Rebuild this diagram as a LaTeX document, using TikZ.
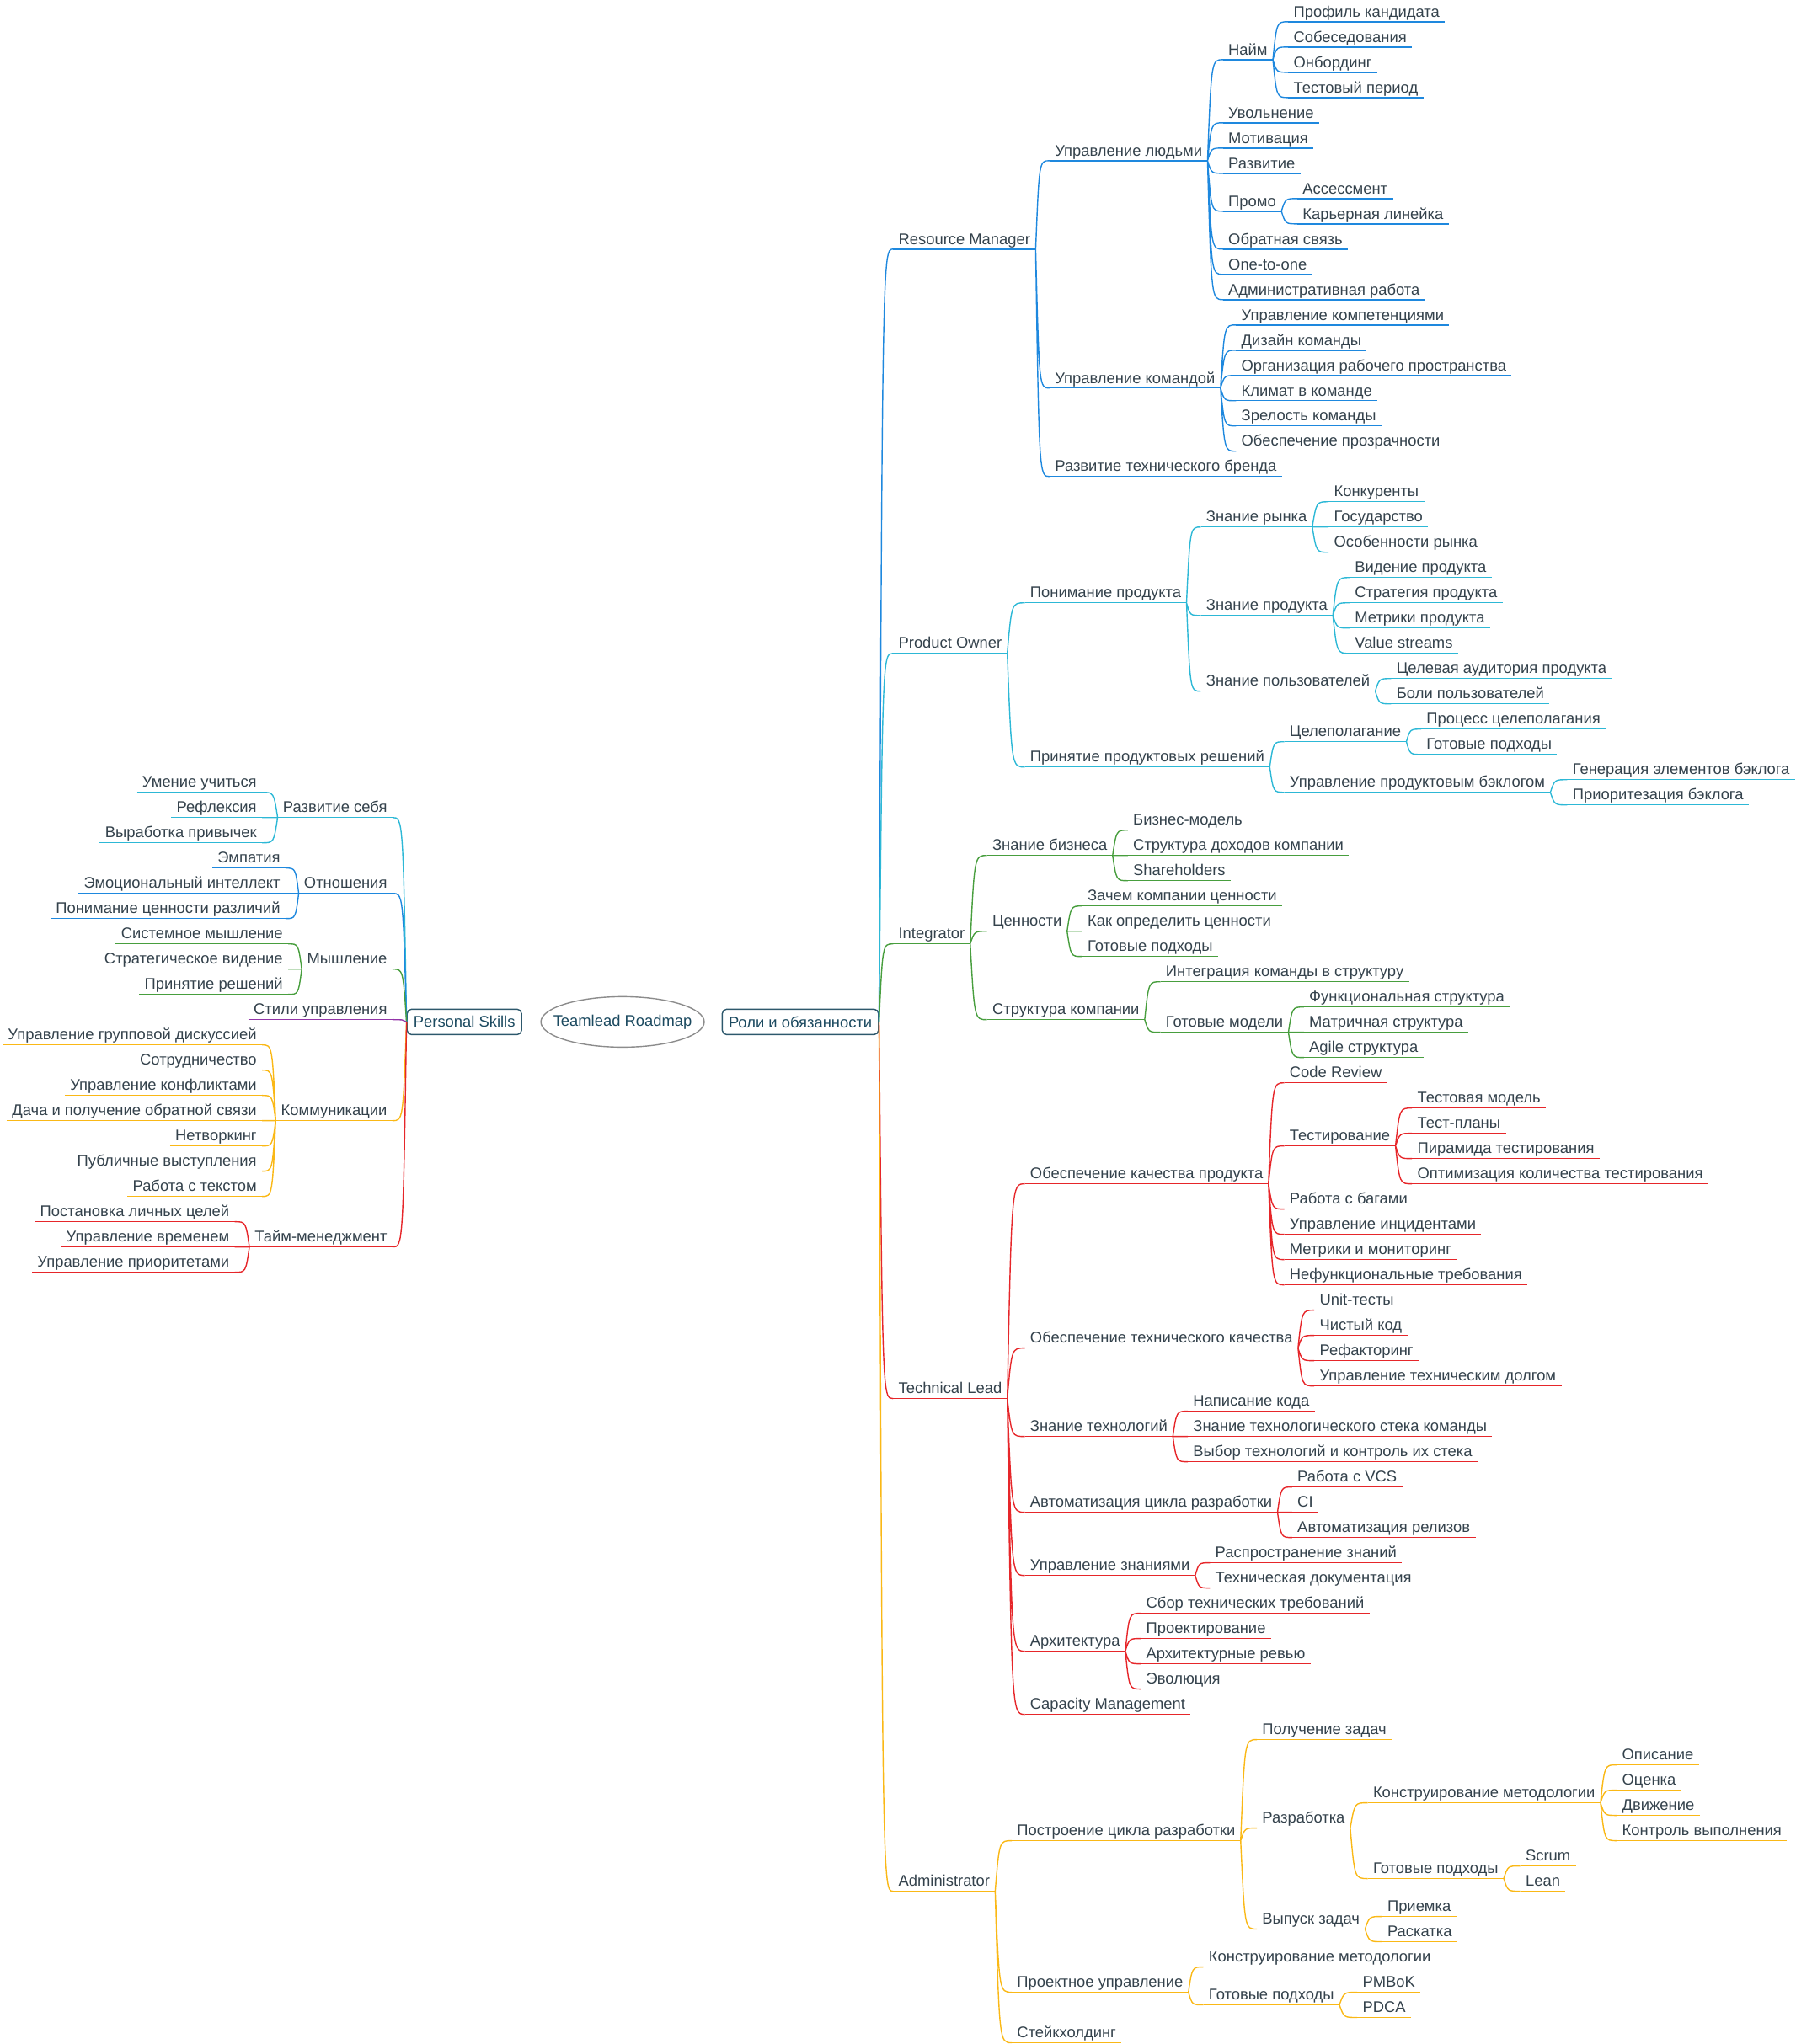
\documentclass[tikz,border=0pt]{standalone}
\usepackage{fontspec}
\setmainfont{Liberation Sans}
\usepackage{xcolor}
\usepackage{tikz}
\usetikzlibrary{positioning,shapes.geometric,calc}

\definecolor{ink}{RGB}{52,66,76}
\definecolor{hubink}{RGB}{28,74,96}
\definecolor{hubline}{RGB}{45,88,108}
\definecolor{rmblue}{RGB}{30,136,222}
\definecolor{pocyan}{RGB}{45,184,214}
\definecolor{iggreen}{RGB}{72,158,62}
\definecolor{tlred}{RGB}{230,38,42}
\definecolor{adamber}{RGB}{250,184,22}
\definecolor{psviolet}{RGB}{146,52,168}

\begin{document}
\begin{tikzpicture}[
  x=0.7742pt, y=-15.004pt,
  font=\fontsize{9.2}{10}\selectfont,
  topic/.style={text=ink, inner xsep=3pt, inner ysep=0.8pt, text height=6.8pt, text depth=1.9pt,
    append after command={(\tikzlastnode.south west) edge[draw=#1, line width=0.7pt] (\tikzlastnode.south east)}},
  rt/.style={topic=#1, anchor=south west},
  lt/.style={topic=#1, anchor=south east},
  hub/.style={draw=hubline, text=hubink, rounded corners=2.5pt, line width=0.7pt, inner xsep=3.8pt, minimum height=15pt},
  root/.style={ellipse, draw=black!45, text=hubink, line width=0.7pt, inner xsep=-7pt, inner ysep=0pt,
    minimum width=97pt, minimum height=30pt},
  link/.style={draw=#1, line width=0.7pt,
    to path={.. controls ($(\tikztostart |- \tikztotarget)!0.25!(\tikztotarget)$)
      and ($(\tikztostart |- \tikztotarget)!0.25!(\tikztotarget)$) .. (\tikztotarget)}}
]
\useasboundingbox (0,-0.862) rectangle (1377,80.05);

\node[root] (map) at (477.5,39.59) {Teamlead Roadmap};
\node[hub, left=10.8pt of map] (skills) {Personal Skills};
\node[hub, right=10pt of map] (roles) {Роли и обязанности};
\draw[hubline, line width=0.7pt] (skills) -- (map);
\draw[hubline, line width=0.7pt] (map) -- (roles);

\node[rt=rmblue] (rm) at (685,9) {Resource Manager};
\node[rt=rmblue] (ppl) at (805,5.5) {Управление людьми};
\node[rt=rmblue] (hire) at (938,1.5) {Найм};
\node[rt=rmblue] (hire1) at (988,0) {Профиль кандидата};
\node[rt=rmblue] (hire2) at (988,1) {Собеседования};
\node[rt=rmblue] (hire3) at (988,2) {Онбординг};
\node[rt=rmblue] (hire4) at (988,3) {Тестовый период};
\node[rt=rmblue] (fire) at (938,4) {Увольнение};
\node[rt=rmblue] (motiv) at (938,5) {Мотивация};
\node[rt=rmblue] (grow) at (938,6) {Развитие};
\node[rt=rmblue] (promo) at (938,7.5) {Промо};
\node[rt=rmblue] (promo1) at (995,7) {Ассессмент};
\node[rt=rmblue] (promo2) at (995,8) {Карьерная линейка};
\node[rt=rmblue] (fb) at (938,9) {Обратная связь};
\node[rt=rmblue] (oto) at (938,10) {One-to-one};
\node[rt=rmblue] (paper) at (938,11) {Административная работа};
\node[rt=rmblue] (team) at (805,14.5) {Управление командой};
\node[rt=rmblue] (team1) at (948,12) {Управление компетенциями};
\node[rt=rmblue] (team2) at (948,13) {Дизайн команды};
\node[rt=rmblue] (team3) at (948,14) {Организация рабочего пространства};
\node[rt=rmblue] (team4) at (948,15) {Климат в команде};
\node[rt=rmblue] (team5) at (948,16) {Зрелость команды};
\node[rt=rmblue] (team6) at (948,17) {Обеспечение прозрачности};
\node[rt=rmblue] (brand) at (805,18) {Развитие технического бренда};

\node[rt=pocyan] (po) at (685,25) {Product Owner};
\node[rt=pocyan] (know) at (786,23) {Понимание продукта};
\node[rt=pocyan] (mkt) at (921,20) {Знание рынка};
\node[rt=pocyan] (mkt1) at (1019,19) {Конкуренты};
\node[rt=pocyan] (mkt2) at (1019,20) {Государство};
\node[rt=pocyan] (mkt3) at (1019,21) {Особенности рынка};
\node[rt=pocyan] (prod) at (921,23.5) {Знание продукта};
\node[rt=pocyan] (prod1) at (1035,22) {Видение продукта};
\node[rt=pocyan] (prod2) at (1035,23) {Стратегия продукта};
\node[rt=pocyan] (prod3) at (1035,24) {Метрики продукта};
\node[rt=pocyan] (prod4) at (1035,25) {Value streams};
\node[rt=pocyan] (usr) at (921,26.5) {Знание пользователей};
\node[rt=pocyan] (usr1) at (1067,26) {Целевая аудитория продукта};
\node[rt=pocyan] (usr2) at (1067,27) {Боли пользователей};
\node[rt=pocyan] (dec) at (786,29.5) {Принятие продуктовых решений};
\node[rt=pocyan] (goal) at (985,28.5) {Целеполагание};
\node[rt=pocyan] (goal1) at (1090,28) {Процесс целеполагания};
\node[rt=pocyan] (goal2) at (1090,29) {Готовые подходы};
\node[rt=pocyan] (blog) at (985,30.5) {Управление продуктовым бэклогом};
\node[rt=pocyan] (blog1) at (1202,30) {Генерация элементов бэклога};
\node[rt=pocyan] (blog2) at (1202,31) {Приоритезация бэклога};

\node[rt=iggreen] (ig) at (685,36.5) {Integrator};
\node[rt=iggreen] (biz) at (757,33) {Знание бизнеса};
\node[rt=iggreen] (biz1) at (865,32) {Бизнес-модель};
\node[rt=iggreen] (biz2) at (865,33) {Структура доходов компании};
\node[rt=iggreen] (biz3) at (865,34) {Shareholders};
\node[rt=iggreen] (val) at (757,36) {Ценности};
\node[rt=iggreen] (val1) at (830,35) {Зачем компании ценности};
\node[rt=iggreen] (val2) at (830,36) {Как определить ценности};
\node[rt=iggreen] (val3) at (830,37) {Готовые подходы};
\node[rt=iggreen] (org) at (757,39.5) {Структура компании};
\node[rt=iggreen] (org1) at (890,38) {Интеграция команды в структуру};
\node[rt=iggreen] (mdl) at (890,40) {Готовые модели};
\node[rt=iggreen] (mdl1) at (1000,39) {Функциональная структура};
\node[rt=iggreen] (mdl2) at (1000,40) {Матричная структура};
\node[rt=iggreen] (mdl3) at (1000,41) {Agile структура};

\node[rt=tlred] (tl) at (685,54.5) {Technical Lead};
\node[rt=tlred] (qa) at (786,46) {Обеспечение качества продукта};
\node[rt=tlred] (cr) at (985,42) {Code Review};
\node[rt=tlred] (test) at (985,44.5) {Тестирование};
\node[rt=tlred] (test1) at (1083,43) {Тестовая модель};
\node[rt=tlred] (test2) at (1083,44) {Тест-планы};
\node[rt=tlred] (test3) at (1083,45) {Пирамида тестирования};
\node[rt=tlred] (test4) at (1083,46) {Оптимизация количества тестирования};
\node[rt=tlred] (bugs) at (985,47) {Работа с багами};
\node[rt=tlred] (inc) at (985,48) {Управление инцидентами};
\node[rt=tlred] (mon) at (985,49) {Метрики и мониторинг};
\node[rt=tlred] (nfr) at (985,50) {Нефункциональные требования};
\node[rt=tlred] (tq) at (786,52.5) {Обеспечение технического качества};
\node[rt=tlred] (tq1) at (1008,51) {Unit-тесты};
\node[rt=tlred] (tq2) at (1008,52) {Чистый код};
\node[rt=tlred] (tq3) at (1008,53) {Рефакторинг};
\node[rt=tlred] (tq4) at (1008,54) {Управление техническим долгом};
\node[rt=tlred] (tech) at (786,56) {Знание технологий};
\node[rt=tlred] (tech1) at (911,55) {Написание кода};
\node[rt=tlred] (tech2) at (911,56) {Знание технологического стека команды};
\node[rt=tlred] (tech3) at (911,57) {Выбор технологий и контроль их стека};
\node[rt=tlred] (auto) at (786,59) {Автоматизация цикла разработки};
\node[rt=tlred] (auto1) at (991,58) {Работа с VCS};
\node[rt=tlred] (auto2) at (991,59) {CI};
\node[rt=tlred] (auto3) at (991,60) {Автоматизация релизов};
\node[rt=tlred] (km) at (786,61.5) {Управление знаниями};
\node[rt=tlred] (km1) at (928,61) {Распространение знаний};
\node[rt=tlred] (km2) at (928,62) {Техническая документация};
\node[rt=tlred] (arch) at (786,64.5) {Архитектура};
\node[rt=tlred] (arch1) at (875,63) {Сбор технических требований};
\node[rt=tlred] (arch2) at (875,64) {Проектирование};
\node[rt=tlred] (arch3) at (875,65) {Архитектурные ревью};
\node[rt=tlred] (arch4) at (875,66) {Эволюция};
\node[rt=tlred] (cap) at (786,67) {Capacity Management};

\node[rt=adamber] (ad) at (685,74) {Administrator};
\node[rt=adamber] (cyc) at (776,72) {Построение цикла разработки};
\node[rt=adamber] (get) at (964,68) {Получение задач};
\node[rt=adamber] (dev) at (964,71.5) {Разработка};
\node[rt=adamber] (meth) at (1049,70.5) {Конструирование методологии};
\node[rt=adamber] (meth1) at (1240,69) {Описание};
\node[rt=adamber] (meth2) at (1240,70) {Оценка};
\node[rt=adamber] (meth3) at (1240,71) {Движение};
\node[rt=adamber] (meth4) at (1240,72) {Контроль выполнения};
\node[rt=adamber] (rdy) at (1049,73.5) {Готовые подходы};
\node[rt=adamber] (rdy1) at (1166,73) {Scrum};
\node[rt=adamber] (rdy2) at (1166,74) {Lean};
\node[rt=adamber] (rel) at (964,75.5) {Выпуск задач};
\node[rt=adamber] (rel1) at (1060,75) {Приемка};
\node[rt=adamber] (rel2) at (1060,76) {Раскатка};
\node[rt=adamber] (pm) at (776,78) {Проектное управление};
\node[rt=adamber] (pm1) at (923,77) {Конструирование методологии};
\node[rt=adamber] (pm2) at (923,78.5) {Готовые подходы};
\node[rt=adamber] (pm21) at (1041,78) {PMBoK};
\node[rt=adamber] (pm22) at (1041,79) {PDCA};
\node[rt=adamber] (stake) at (776,80) {Стейкхолдинг};

\node[lt=pocyan] (self) at (301,31.5) {Развитие себя};
\node[lt=pocyan] (self1) at (201,30.5) {Умение учиться};
\node[lt=pocyan] (self2) at (201,31.5) {Рефлексия};
\node[lt=pocyan] (self3) at (201,32.5) {Выработка привычек};
\node[lt=rmblue] (bond) at (301,34.5) {Отношения};
\node[lt=rmblue] (bond1) at (219,33.5) {Эмпатия};
\node[lt=rmblue] (bond2) at (219,34.5) {Эмоциональный интеллект};
\node[lt=rmblue] (bond3) at (219,35.5) {Понимание ценности различий};
\node[lt=iggreen] (mind) at (301,37.5) {Мышление};
\node[lt=iggreen] (mind1) at (221,36.5) {Системное мышление};
\node[lt=iggreen] (mind2) at (221,37.5) {Стратегическое видение};
\node[lt=iggreen] (mind3) at (221,38.5) {Принятие решений};
\node[lt=psviolet] (lead) at (301,39.5) {Стили управления};
\node[lt=adamber] (comm) at (301,43.5) {Коммуникации};
\node[lt=adamber] (comm1) at (201,40.5) {Управление групповой дискуссией};
\node[lt=adamber] (comm2) at (201,41.5) {Сотрудничество};
\node[lt=adamber] (comm3) at (201,42.5) {Управление конфликтами};
\node[lt=adamber] (comm4) at (201,43.5) {Дача и получение обратной связи};
\node[lt=adamber] (comm5) at (201,44.5) {Нетворкинг};
\node[lt=adamber] (comm6) at (201,45.5) {Публичные выступления};
\node[lt=adamber] (comm7) at (201,46.5) {Работа с текстом};
\node[lt=tlred] (time) at (301,48.5) {Тайм-менеджмент};
\node[lt=tlred] (time1) at (180,47.5) {Постановка личных целей};
\node[lt=tlred] (time2) at (180,48.5) {Управление временем};
\node[lt=tlred] (time3) at (180,49.5) {Управление приоритетами};

\draw[link=rmblue] (roles.east) to (rm.south west);
\draw[link=pocyan] (roles.east) to (po.south west);
\draw[link=iggreen] (roles.east) to (ig.south west);
\draw[link=tlred] (roles.east) to (tl.south west);
\draw[link=adamber] (roles.east) to (ad.south west);

\draw[link=rmblue] (rm.south east) to (ppl.south west) (rm.south east) to (team.south west)
  (rm.south east) to (brand.south west);
\draw[link=rmblue] (ppl.south east) to (hire.south west) (ppl.south east) to (fire.south west)
  (ppl.south east) to (motiv.south west) (ppl.south east) to (grow.south west)
  (ppl.south east) to (promo.south west) (ppl.south east) to (fb.south west)
  (ppl.south east) to (oto.south west) (ppl.south east) to (paper.south west);
\draw[link=rmblue] (hire.south east) to (hire1.south west) (hire.south east) to (hire2.south west)
  (hire.south east) to (hire3.south west) (hire.south east) to (hire4.south west);
\draw[link=rmblue] (promo.south east) to (promo1.south west) (promo.south east) to (promo2.south west);
\draw[link=rmblue] (team.south east) to (team1.south west) (team.south east) to (team2.south west)
  (team.south east) to (team3.south west) (team.south east) to (team4.south west)
  (team.south east) to (team5.south west) (team.south east) to (team6.south west);

\draw[link=pocyan] (po.south east) to (know.south west) (po.south east) to (dec.south west);
\draw[link=pocyan] (know.south east) to (mkt.south west) (know.south east) to (prod.south west)
  (know.south east) to (usr.south west);
\draw[link=pocyan] (mkt.south east) to (mkt1.south west) (mkt.south east) to (mkt2.south west)
  (mkt.south east) to (mkt3.south west);
\draw[link=pocyan] (prod.south east) to (prod1.south west) (prod.south east) to (prod2.south west)
  (prod.south east) to (prod3.south west) (prod.south east) to (prod4.south west);
\draw[link=pocyan] (usr.south east) to (usr1.south west) (usr.south east) to (usr2.south west);
\draw[link=pocyan] (dec.south east) to (goal.south west) (dec.south east) to (blog.south west);
\draw[link=pocyan] (goal.south east) to (goal1.south west) (goal.south east) to (goal2.south west);
\draw[link=pocyan] (blog.south east) to (blog1.south west) (blog.south east) to (blog2.south west);

\draw[link=iggreen] (ig.south east) to (biz.south west) (ig.south east) to (val.south west)
  (ig.south east) to (org.south west);
\draw[link=iggreen] (biz.south east) to (biz1.south west) (biz.south east) to (biz2.south west)
  (biz.south east) to (biz3.south west);
\draw[link=iggreen] (val.south east) to (val1.south west) (val.south east) to (val2.south west)
  (val.south east) to (val3.south west);
\draw[link=iggreen] (org.south east) to (org1.south west) (org.south east) to (mdl.south west);
\draw[link=iggreen] (mdl.south east) to (mdl1.south west) (mdl.south east) to (mdl2.south west)
  (mdl.south east) to (mdl3.south west);

\draw[link=tlred] (tl.south east) to (qa.south west) (tl.south east) to (tq.south west)
  (tl.south east) to (tech.south west) (tl.south east) to (auto.south west)
  (tl.south east) to (km.south west) (tl.south east) to (arch.south west)
  (tl.south east) to (cap.south west);
\draw[link=tlred] (qa.south east) to (cr.south west) (qa.south east) to (test.south west)
  (qa.south east) to (bugs.south west) (qa.south east) to (inc.south west)
  (qa.south east) to (mon.south west) (qa.south east) to (nfr.south west);
\draw[link=tlred] (test.south east) to (test1.south west) (test.south east) to (test2.south west)
  (test.south east) to (test3.south west) (test.south east) to (test4.south west);
\draw[link=tlred] (tq.south east) to (tq1.south west) (tq.south east) to (tq2.south west)
  (tq.south east) to (tq3.south west) (tq.south east) to (tq4.south west);
\draw[link=tlred] (tech.south east) to (tech1.south west) (tech.south east) to (tech2.south west)
  (tech.south east) to (tech3.south west);
\draw[link=tlred] (auto.south east) to (auto1.south west) (auto.south east) to (auto2.south west)
  (auto.south east) to (auto3.south west);
\draw[link=tlred] (km.south east) to (km1.south west) (km.south east) to (km2.south west);
\draw[link=tlred] (arch.south east) to (arch1.south west) (arch.south east) to (arch2.south west)
  (arch.south east) to (arch3.south west) (arch.south east) to (arch4.south west);

\draw[link=adamber] (ad.south east) to (cyc.south west) (ad.south east) to (pm.south west)
  (ad.south east) to (stake.south west);
\draw[link=adamber] (cyc.south east) to (get.south west) (cyc.south east) to (dev.south west)
  (cyc.south east) to (rel.south west);
\draw[link=adamber] (dev.south east) to (meth.south west) (dev.south east) to (rdy.south west);
\draw[link=adamber] (meth.south east) to (meth1.south west) (meth.south east) to (meth2.south west)
  (meth.south east) to (meth3.south west) (meth.south east) to (meth4.south west);
\draw[link=adamber] (rdy.south east) to (rdy1.south west) (rdy.south east) to (rdy2.south west);
\draw[link=adamber] (rel.south east) to (rel1.south west) (rel.south east) to (rel2.south west);
\draw[link=adamber] (pm.south east) to (pm1.south west) (pm.south east) to (pm2.south west);
\draw[link=adamber] (pm2.south east) to (pm21.south west) (pm2.south east) to (pm22.south west);

\draw[link=pocyan] (skills.west) to (self.south east);
\draw[link=rmblue] (skills.west) to (bond.south east);
\draw[link=iggreen] (skills.west) to (mind.south east);
\draw[link=psviolet] (skills.west) to (lead.south east);
\draw[link=adamber] (skills.west) to (comm.south east);
\draw[link=tlred] (skills.west) to (time.south east);

\draw[link=pocyan] (self.south west) to (self1.south east) (self.south west) to (self2.south east)
  (self.south west) to (self3.south east);
\draw[link=rmblue] (bond.south west) to (bond1.south east) (bond.south west) to (bond2.south east)
  (bond.south west) to (bond3.south east);
\draw[link=iggreen] (mind.south west) to (mind1.south east) (mind.south west) to (mind2.south east)
  (mind.south west) to (mind3.south east);
\draw[link=adamber] (comm.south west) to (comm1.south east) (comm.south west) to (comm2.south east)
  (comm.south west) to (comm3.south east) (comm.south west) to (comm4.south east)
  (comm.south west) to (comm5.south east) (comm.south west) to (comm6.south east)
  (comm.south west) to (comm7.south east);
\draw[link=tlred] (time.south west) to (time1.south east) (time.south west) to (time2.south east)
  (time.south west) to (time3.south east);
\end{tikzpicture}
\end{document}
